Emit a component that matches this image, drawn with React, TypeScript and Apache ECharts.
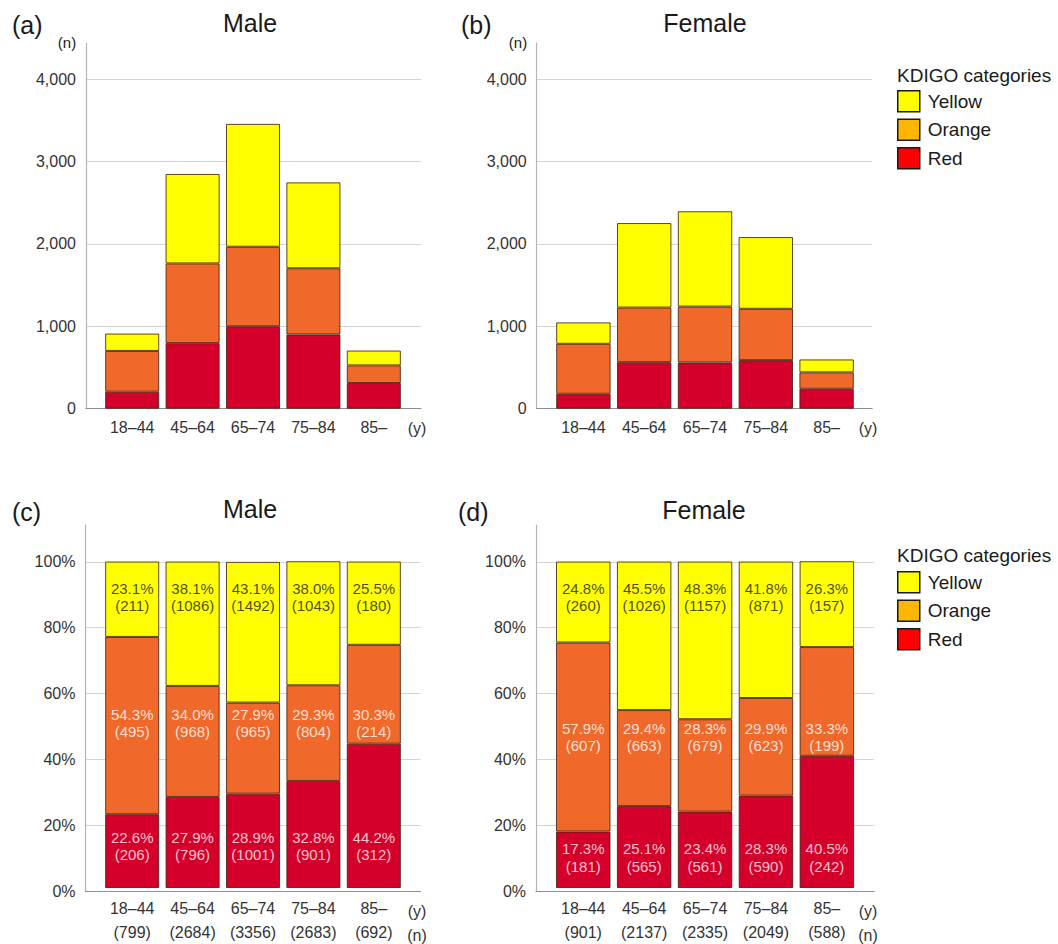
import React, { useEffect, useRef } from 'react';
import * as echarts from 'echarts';

// ---------- data ----------
const CATEGORIES = ['18–44', '45–64', '65–74', '75–84', '85–'];
const SEGMENTS = ['Red', 'Orange', 'Yellow'];

const maleRed = [206, 796, 1001, 901, 312];
const maleOrange = [495, 968, 965, 804, 214];
const maleYellow = [211, 1086, 1492, 1043, 180];
const femaleRed = [181, 565, 561, 590, 242];
const femaleOrange = [607, 663, 679, 623, 199];
const femaleYellow = [260, 1026, 1157, 871, 157];

const malePctRed = [22.6, 27.9, 28.9, 32.8, 44.2];
const malePctOrange = [54.3, 34.0, 27.9, 29.3, 30.3];
const malePctYellow = [23.1, 38.1, 43.1, 38.0, 25.5];
const femalePctRed = [17.3, 25.1, 23.4, 28.3, 40.5];
const femalePctOrange = [57.9, 29.4, 28.3, 29.9, 33.3];
const femalePctYellow = [24.8, 45.5, 48.3, 41.8, 26.3];

const maleN = [799, 2684, 3356, 2683, 692];
const femaleN = [901, 2137, 2335, 2049, 588];

const COUNT_TICK_INTERVAL = 1000;
const PCT_TICK_INTERVAL = 20;

// ---------- style ----------
const FONT = '"Liberation Sans", Arial, Helvetica, sans-serif';
const BAR_COLORS: Record<string, string> = { Red: '#D4002B', Orange: '#F0692B', Yellow: '#FFFF00' };
const LEGEND_COLORS: Record<string, string> = { Red: '#FF0000', Orange: '#FFB600', Yellow: '#FFFF00' };
const LABEL_COLORS: Record<string, string> = { Red: '#FFF6F6', Orange: '#FFFFFF', Yellow: '#1a1a1a' };

type Panel = {
  frame: { left: number; top: number; width: number; height: number };
  bars: { left: number; width: number };
  max: number;
  interval: number;
  pct: boolean;
  series: Record<string, number[]>;
  counts?: Record<string, number[]>;
  n?: number[];
  labelY?: Record<string, number>;
};

const PANELS: Panel[] = [
  {
    frame: { left: 86, top: 43, width: 335, height: 365.7 },
    bars: { left: 102, width: 302 },
    max: 4440, interval: COUNT_TICK_INTERVAL, pct: false,
    series: { Red: maleRed, Orange: maleOrange, Yellow: maleYellow },
  },
  {
    frame: { left: 536.7, top: 43, width: 335.5, height: 365.7 },
    bars: { left: 553, width: 304 },
    max: 4440, interval: COUNT_TICK_INTERVAL, pct: false,
    series: { Red: femaleRed, Orange: femaleOrange, Yellow: femaleYellow },
  },
  {
    frame: { left: 85.5, top: 525, width: 335, height: 366 },
    bars: { left: 102, width: 302 },
    max: 111.2, interval: PCT_TICK_INTERVAL, pct: true,
    series: { Red: malePctRed, Orange: malePctOrange, Yellow: malePctYellow },
    counts: { Red: maleRed, Orange: maleOrange, Yellow: maleYellow },
    n: maleN,
    labelY: { Yellow: 89.1, Orange: 50.5, Red: 12.8 },
  },
  {
    frame: { left: 536, top: 525, width: 338, height: 366 },
    bars: { left: 552.8, width: 304.5 },
    max: 111.2, interval: PCT_TICK_INTERVAL, pct: true,
    series: { Red: femalePctRed, Orange: femalePctOrange, Yellow: femalePctYellow },
    counts: { Red: femaleRed, Orange: femaleOrange, Yellow: femaleYellow },
    n: femaleN,
    labelY: { Yellow: 89.1, Orange: 46.2, Red: 9.4 },
  },
];

function txt(text: string, x: number, y: number, size: number, align = 'left', color = '#1a1a1a') {
  return {
    type: 'text',
    x,
    y,
    silent: true,
    style: {
      text,
      fill: color,
      fontSize: size,
      fontFamily: FONT,
      textAlign: align,
      align,
      textVerticalAlign: 'middle',
      verticalAlign: 'middle',
    },
  };
}

function buildOption() {
  const grid: any[] = [];
  const xAxis: any[] = [];
  const yAxis: any[] = [];
  const series: any[] = [];

  PANELS.forEach((p, pi) => {
    const fi = grid.length;
    grid.push({ left: p.frame.left, top: p.frame.top, width: p.frame.width, height: p.frame.height });
    const bi = grid.length;
    grid.push({ left: p.bars.left, top: p.frame.top, width: p.bars.width, height: p.frame.height });

    // frame axes
    xAxis.push({
      type: 'value', gridIndex: fi, min: 0, max: 1,
      axisLine: { show: true, lineStyle: { color: '#8e8e8e', width: 1.2 } },
      axisTick: { show: false }, axisLabel: { show: false }, splitLine: { show: false },
    });
    yAxis.push({
      type: 'value', gridIndex: fi, min: 0, max: p.max, interval: p.interval,
      axisLine: { show: true, lineStyle: { color: '#b5b5b5', width: 1.2 } },
      axisTick: { show: false },
      axisLabel: {
        fontSize: 16, color: '#333', fontFamily: FONT, margin: 10,
        showMaxLabel: false,
        formatter: (v: number) => {
          if (Math.abs(v % p.interval) > 1e-6) return '';
          return p.pct ? `${v}%` : v.toLocaleString('en-US');
        },
      },
      splitLine: { show: true, showMaxLine: false, showMinLine: false, lineStyle: { color: '#d4d4d4', width: 1.2 } },
    });

    // bar axes
    xAxis.push({
      type: 'category', gridIndex: bi, data: CATEGORIES,
      axisLine: { show: false }, axisTick: { show: false }, splitLine: { show: false },
      axisLabel: p.pct
        ? {
            fontSize: 16, color: '#333', fontFamily: FONT, margin: 8, lineHeight: 24,
            interval: 0,
            formatter: (v: string, idx: number) => `${v}\n(${p.n![idx]})`,
          }
        : { fontSize: 16, color: '#333', fontFamily: FONT, margin: 11, interval: 0 },
    });
    yAxis.push({ type: 'value', gridIndex: bi, min: 0, max: p.max, show: false, splitLine: { show: false } });

    SEGMENTS.forEach((s) => {
      series.push({
        type: 'bar', name: s, xAxisIndex: bi, yAxisIndex: bi, stack: `stack${pi}`,
        data: p.series[s], barCategoryGap: '10.5%',
        itemStyle: { color: BAR_COLORS[s], borderColor: 'rgba(70,35,15,0.85)', borderWidth: 1 },
        silent: true,
      });
    });

    if (p.pct) {
      SEGMENTS.forEach((s) => {
        series.push({
          type: 'scatter', name: `${s}-label-${pi}`, xAxisIndex: bi, yAxisIndex: bi,
          symbolSize: 0, silent: true, z: 5,
          data: CATEGORIES.map((_, i) => [i, p.labelY![s]]),
          label: {
            show: true, position: 'inside', fontSize: 15, lineHeight: 17.5, fontFamily: FONT,
            color: LABEL_COLORS[s],
            formatter: (d: any) => `${p.series[s][d.dataIndex].toFixed(1)}%\n(${p.counts![s][d.dataIndex]})`,
          },
        });
      });
    }
  });

  const legendBase = {
    orient: 'vertical', left: 897, padding: 0, itemWidth: 22, itemHeight: 21, itemGap: 6, icon: 'rect',
    selectedMode: false,
    itemStyle: { borderColor: '#1a1a1a', borderWidth: 1.5 },
    textStyle: { fontSize: 19, color: '#1a1a1a', fontFamily: FONT, padding: [0, 0, 0, 3] },
    data: ['Yellow', 'Orange', 'Red'].map((n) => ({ name: n, itemStyle: { color: LEGEND_COLORS[n] } })),
  };

  const graphic: any[] = [
    txt('(a)', 12, 25, 25),
    txt('Male', 250, 23, 25, 'center'),
    txt('(n)', 67, 42, 15, 'center'),
    txt('(b)', 461, 25, 25),
    txt('Female', 705, 23, 25, 'center'),
    txt('(n)', 518, 42, 15, 'center'),
    txt('(y)', 417, 428, 16, 'center', '#333'),
    txt('(y)', 868, 428, 16, 'center', '#333'),
    txt('(c)', 12, 512, 25),
    txt('Male', 250, 509, 25, 'center'),
    txt('(d)', 458, 512, 25),
    txt('Female', 704, 510, 25, 'center'),
    txt('(y)', 417, 911, 16, 'center', '#333'),
    txt('(n)', 417, 935, 16, 'center', '#333'),
    txt('(y)', 868, 911, 16, 'center', '#333'),
    txt('(n)', 868, 935, 16, 'center', '#333'),
    txt('KDIGO categories', 897, 75, 19),
    txt('KDIGO categories', 897, 555, 19),
  ];

  return {
    animation: false,
    backgroundColor: '#ffffff',
    textStyle: { fontFamily: FONT },
    grid,
    xAxis,
    yAxis,
    series,
    legend: [
      { ...legendBase, top: 90 },
      { ...legendBase, top: 571 },
    ],
    graphic,
  };
}

export default function App() {
  const ref = useRef<HTMLDivElement>(null);
  useEffect(() => {
    const chart = echarts.init(ref.current!, null, { renderer: 'svg' });
    chart.setOption(buildOption() as any);
    return () => chart.dispose();
  }, []);
  return (
    <div
      ref={ref}
      style={{ position: 'absolute', left: 0, top: 0, width: 1058, height: 944, background: '#fff' }}
    />
  );
}
